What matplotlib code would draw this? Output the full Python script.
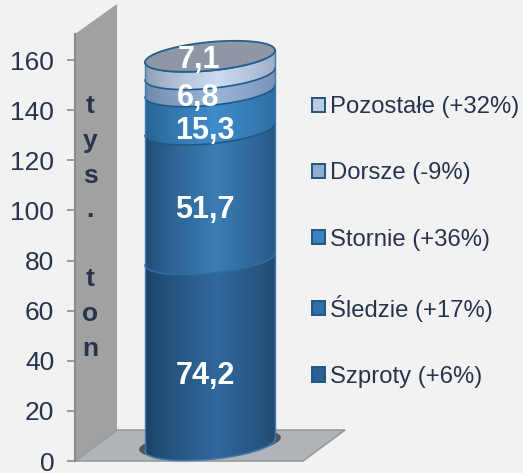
"""Stacked 3D-look cylinder of Baltic catches (tys. ton) with a wall, floor and side legend."""

import numpy as np
import matplotlib.pyplot as plt
from matplotlib.patches import PathPatch, Polygon
from matplotlib.path import Path

W, H = 523, 473
BG = "#f2f2f2"
INK = "#28344d"

# data, bottom to top
SPECIES = ["Szproty (+6%)", "Śledzie (+17%)", "Stornie (+36%)", "Dorsze (-9%)", "Pozostałe (+32%)"]
VALUES = [74.2, 51.7, 15.3, 6.8, 7.1]
VALUE_LABELS = ["74,2", "51,7", "15,3", "6,8", "7,1"]
Y_TICKS = [0, 20, 40, 60, 80, 100, 120, 140, 160]

# (edge, centre) shades of the horizontal gradient per segment
SHADES = [("#1c3f60", "#2f689c"), ("#1f4a70", "#3a7cb4"), ("#27608f", "#3e8ccb"),
          ("#6c85a6", "#98b4d8"), ("#8a9ab2", "#cbdcf2")]
LEGEND_COLORS = ["#2a6193", "#2f72ab", "#3a83c2", "#93add0", "#bccde2"]
RIM_COLORS = ["#2f6c9f", "#23577f", "#1f5a88", "#1f5a88", "#24608f"]
LABEL_OFFSETS = [(0, -24), (0, -16), (0, -21), (-7, -15), (-6, 5)]

PX = 2.506            # pixels per thousand tons
Y0 = 461              # pixel row of value 0


def v(row):
    """pixel row -> value axis"""
    return (Y0 - row) / PX


plt.rcParams["font.family"] = ["Liberation Sans", "DejaVu Sans"]

fig = plt.figure(figsize=(W / 100, H / 100), dpi=100, facecolor=BG)
ax = fig.add_axes([0, 0, 1, 1], facecolor=BG)
ax.set_xlim(0, W)
ax.set_ylim(v(H), v(0))
for s in ("top", "right", "bottom"):
    ax.spines[s].set_visible(False)
ax.spines["left"].set_position(("data", 75))
ax.spines["left"].set_bounds(0, v(34))
ax.spines["left"].set_color("#8c8c8c")
ax.spines["left"].set_linewidth(1.5)
ax.set_xticks([])
ax.set_yticks(Y_TICKS)
ax.tick_params(axis="y", length=6, width=1.2, color="#8c8c8c", labelcolor=INK, labelsize=19, pad=9)

# wall and floor
ax.add_patch(Polygon([(75, 0), (117, v(430)), (117, v(4)), (75, v(34))], fc="#a1a1a1", ec="none", zorder=1))
ax.add_patch(Polygon([(75, 0), (303, 0), (345, v(430)), (117, v(430))], fc="#b0b3b7", ec="#9a9a9a", lw=1.2, zorder=1))

ax.text(90, v(227.5), "t\ny\ns\n.\n\nt\no\nn", ha="center", va="center", fontsize=19, fontweight="bold",
        color=INK, linespacing=1.56, zorder=2)

# cylinder geometry (pixels)
CX, RX, RY, TILT = 210, 65, 14.3, 6
BASE = v(445)         # value-axis height of the bottom ellipse centre


def rim(value, t):
    x = CX + RX * np.cos(t)
    y = BASE + value + (RY * np.sin(t) + TILT * np.cos(t)) / PX
    return x, y


def front(value):
    # left to right along the near edge
    return rim(value, np.linspace(np.pi, 2 * np.pi, 60))


def hex2rgb(c):
    return np.array([int(c[i:i + 2], 16) / 255 for i in (1, 3, 5)])


# contact shadow under the base
t = np.linspace(0, 2 * np.pi, 100)
sx, sy = rim(0.6, t)
ax.fill(CX + (sx - CX) * 1.09, sy, color="#3a3f45", alpha=0.8, lw=0, zorder=2)

tops = np.cumsum(VALUES)
bottoms = tops - np.array(VALUES)
u = np.linspace(0, 1, 130)

for val0, val1, (edge, centre), rim_color in zip(bottoms, tops, SHADES, RIM_COLORS):
    x0, y0 = front(val0)
    x1, y1 = front(val1)
    verts = np.vstack([np.column_stack([x0, y0]), np.column_stack([x1[::-1], y1[::-1]])])
    clip = PathPatch(Path(np.vstack([verts, verts[0]])), fc="none", ec="none", transform=ax.transData)
    ax.add_patch(clip)
    # light falls a little right of centre
    w = np.clip(1 - np.abs(u - 0.55) / 0.55, 0, 1) ** 0.7
    grad = hex2rgb(edge)[None, :] * (1 - w[:, None]) + hex2rgb(centre)[None, :] * w[:, None]
    im = ax.imshow(grad[None, :, :], extent=(CX - RX, CX + RX, val0 - 20, val1 + 20), aspect="auto",
                   zorder=3, interpolation="bilinear")
    im.set_clip_path(clip)
    ax.plot(x1, y1, color=rim_color, lw=1.2, zorder=4)

ax.set_xlim(0, W)
ax.set_ylim(v(H), v(0))

# outline and top face
ax.plot(*front(0), color="#3a78ab", lw=1.2, zorder=4)
for ex, ey in ((CX - RX, BASE - TILT / PX), (CX + RX, BASE + TILT / PX)):
    ax.plot([ex, ex], [ey, ey + tops[-1]], color="#3f7cae", lw=1.0, zorder=4)
tx, ty = rim(tops[-1], t)
ax.fill(tx, ty, fc="#8f97a6", ec="#24608f", lw=1.3, zorder=5)

# value labels
for val0, val1, lab, off in zip(bottoms, tops, VALUE_LABELS, LABEL_OFFSETS):
    ax.annotate(lab, xy=(205, BASE + (val0 + val1) / 2), xytext=off, textcoords="offset pixels",
                ha="center", va="center", fontsize=22, fontweight="bold", color="white", zorder=6)

# legend, top entry first
handles = [plt.Rectangle((0, 0), 1, 1, fc=c, ec="#24557f", lw=1.4) for c in LEGEND_COLORS[::-1]]
ax.legend(handles, SPECIES[::-1], loc="center left", bbox_to_anchor=(312 / W, 1 - 242 / H), frameon=False,
          fontsize=17.2, labelcolor=INK, handlelength=0.54, handleheight=0.54, handletextpad=0.2,
          labelspacing=1.85, borderpad=0, borderaxespad=0)

fig.savefig("out.png", dpi=100, facecolor=BG)
